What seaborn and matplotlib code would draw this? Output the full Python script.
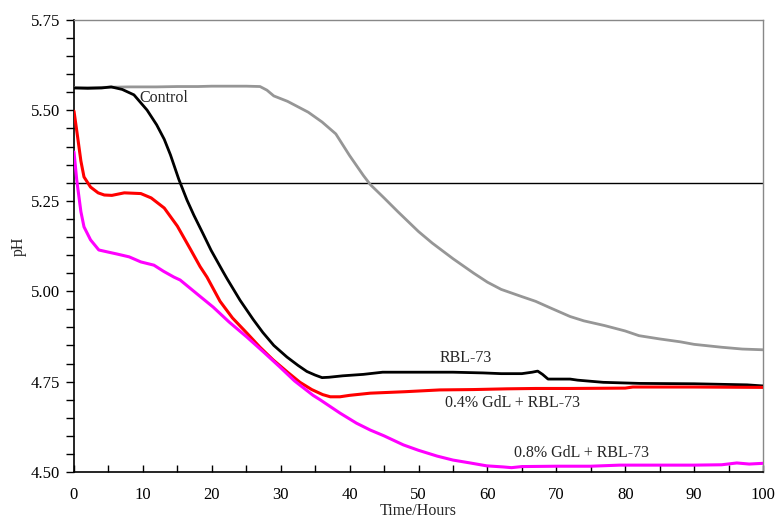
import numpy as np
import pandas as pd
import matplotlib
matplotlib.use("Agg")
import matplotlib.pyplot as plt
from matplotlib.ticker import MultipleLocator, FormatStrFormatter
import seaborn as sns

# ---- data ----
control_x = [0, 2, 5, 8, 10, 12, 15, 18, 20, 22, 25, 27, 28, 29, 31, 34, 36, 38, 40, 42, 43, 45, 47,
             50, 52, 55, 58, 60, 62, 65, 67, 69, 72, 74, 77, 80, 82, 85, 88, 90, 94, 97, 100]
control_y = [5.563, 5.563, 5.564, 5.565, 5.565, 5.565, 5.566, 5.566, 5.567, 5.567, 5.567, 5.566,
             5.556, 5.54, 5.525, 5.495, 5.468, 5.435, 5.375, 5.32, 5.295, 5.258, 5.22, 5.165, 5.133,
             5.09, 5.05, 5.025, 5.005, 4.985, 4.972, 4.955, 4.93, 4.918, 4.905, 4.89, 4.877,
             4.868, 4.86, 4.853, 4.845, 4.84, 4.838]

rbl_x = [0, 2, 4, 5.4, 7, 8.7, 10.6, 12, 13.1, 14, 15.2, 16.4, 17.4, 18.7, 19.9, 21.6, 22.2, 24.1,
         26, 27.4, 29, 30.9, 32.5, 33.8, 35, 36, 37, 39, 42, 44.8, 50, 55, 59.4, 62, 65, 66.5,
         67.3, 68, 68.8, 72, 73.1, 76.8, 82.1, 90, 97.7, 100]
rbl_y = [5.562, 5.561, 5.562, 5.565, 5.558, 5.543, 5.501, 5.46, 5.42, 5.377, 5.31, 5.252, 5.21,
         5.16, 5.113, 5.055, 5.035, 4.975, 4.922, 4.886, 4.85, 4.818, 4.795, 4.778, 4.768, 4.761,
         4.762, 4.766, 4.77, 4.776, 4.776, 4.776, 4.774, 4.772, 4.772, 4.776, 4.779, 4.77, 4.757,
         4.757, 4.754, 4.748, 4.745, 4.744, 4.741, 4.738]

gdl04_x = [0, 0.5, 1, 1.45, 2.4, 3.5, 4.4, 5.5, 7.3, 9.7, 11.2, 13.1, 15, 16.9, 18.3, 19.3, 21.2,
           23, 25.1, 27, 28.9, 31, 32.8, 34.5, 36.1, 37.2, 38.6, 40, 43, 48, 53.1, 58, 62.8, 67,
           72, 80, 81.1, 90, 100]
gdl04_y = [5.498, 5.43, 5.36, 5.316, 5.288, 5.272, 5.266, 5.265, 5.272, 5.27, 5.258, 5.23, 5.18,
           5.116, 5.068, 5.039, 4.972, 4.926, 4.884, 4.845, 4.81, 4.776, 4.748, 4.728, 4.714,
           4.708, 4.708, 4.712, 4.718, 4.722, 4.727, 4.728, 4.730, 4.731, 4.731, 4.732, 4.735,
           4.735, 4.734]

gdl08_x = [0, 0.4, 1, 1.45, 2.4, 3.6, 5, 6.2, 8, 9.7, 11.6, 13, 14.5, 15.4, 18.4, 20.2, 22.5,
           25.1, 27.5, 29.9, 32, 34.7, 35.7, 38.6, 41, 43, 45, 47.8, 50, 52.7, 55, 57.5, 59.9,
           62.3, 63.5, 65, 70, 75, 79.2, 85, 90, 94, 96.2, 98, 100]
gdl08_y = [5.385, 5.307, 5.22, 5.178, 5.142, 5.114, 5.108, 5.103, 5.095, 5.081, 5.072, 5.055,
           5.039, 5.031, 4.984, 4.956, 4.915, 4.873, 4.832, 4.79, 4.752, 4.712, 4.70, 4.663,
           4.635, 4.616, 4.60, 4.575, 4.56, 4.544, 4.533, 4.525, 4.517, 4.514, 4.512, 4.515,
           4.516, 4.516, 4.519, 4.519, 4.519, 4.520, 4.525, 4.522, 4.524]

series_names = ["Control", "RBL-73", "0.4% GdL + RBL-73", "0.8% GdL + RBL-73"]
threshold = 5.30

# ---- styling ----
sns.set_style("ticks")
plt.rcParams["font.family"] = ["Liberation Serif", "DejaVu Serif"]
plt.rcParams["font.size"] = 12

fig = plt.figure(figsize=(7.76, 5.18), dpi=100)
ax = fig.add_axes([74 / 776, 1 - 472 / 518, (763 - 74) / 776, (472 - 20) / 518])

frames = []
for name, xs, ys in [(series_names[0], control_x, control_y),
                     (series_names[1], rbl_x, rbl_y),
                     (series_names[2], gdl04_x, gdl04_y),
                     (series_names[3], gdl08_x, gdl08_y)]:
    frames.append(pd.DataFrame({"Time": xs, "pH": ys, "series": name}))
df = pd.concat(frames, ignore_index=True)

palette = {series_names[0]: "#969696", series_names[1]: "#000000",
           series_names[2]: "#ff0000", series_names[3]: "#ff00ff"}
widths = {series_names[0]: 2.0, series_names[1]: 2.0,
          series_names[2]: 2.2, series_names[3]: 2.2}

ax.axhline(threshold, color="black", lw=1.0, zorder=1)

for name in series_names:
    sub = df[df["series"] == name]
    sns.lineplot(data=sub, x="Time", y="pH", ax=ax, color=palette[name],
                 lw=widths[name], estimator=None, sort=False, legend=False, zorder=3)

ax.set_xlim(0, 100)
ax.set_ylim(4.5, 5.75)
ax.xaxis.set_major_locator(MultipleLocator(10))
ax.xaxis.set_minor_locator(MultipleLocator(5))
ax.yaxis.set_major_locator(MultipleLocator(0.25))
ax.yaxis.set_minor_locator(MultipleLocator(0.05))
ax.yaxis.set_major_formatter(FormatStrFormatter("%.2f"))

ax.tick_params(axis="x", which="both", direction="in", length=5, width=1, pad=11,
               labelsize=12, colors="black")
ax.tick_params(axis="y", which="both", direction="out", length=6, width=1, pad=4,
               labelsize=12, colors="black")

for s in ["left", "bottom"]:
    ax.spines[s].set_color("black")
    ax.spines[s].set_linewidth(1.2)
for s in ["top", "right"]:
    ax.spines[s].set_color("#888888")
    ax.spines[s].set_linewidth(1.0)
    ax.spines[s].set_visible(True)

ax.set_xlabel("Time/Hours", fontsize=11.5, labelpad=0)
ax.set_ylabel("pH", fontsize=11.5, labelpad=3)

ax.text(13.0, 5.534, "Control", ha="center", va="center", fontsize=11.5)
ax.text(56.9, 4.815, "RBL-73", ha="center", va="center", fontsize=11.5)
ax.text(63.6, 4.692, "0.4% GdL + RBL-73", ha="center", va="center", fontsize=11.5)
ax.text(73.7, 4.553, "0.8% GdL + RBL-73", ha="center", va="center", fontsize=11.5)

fig.savefig("out.png", dpi=100)
